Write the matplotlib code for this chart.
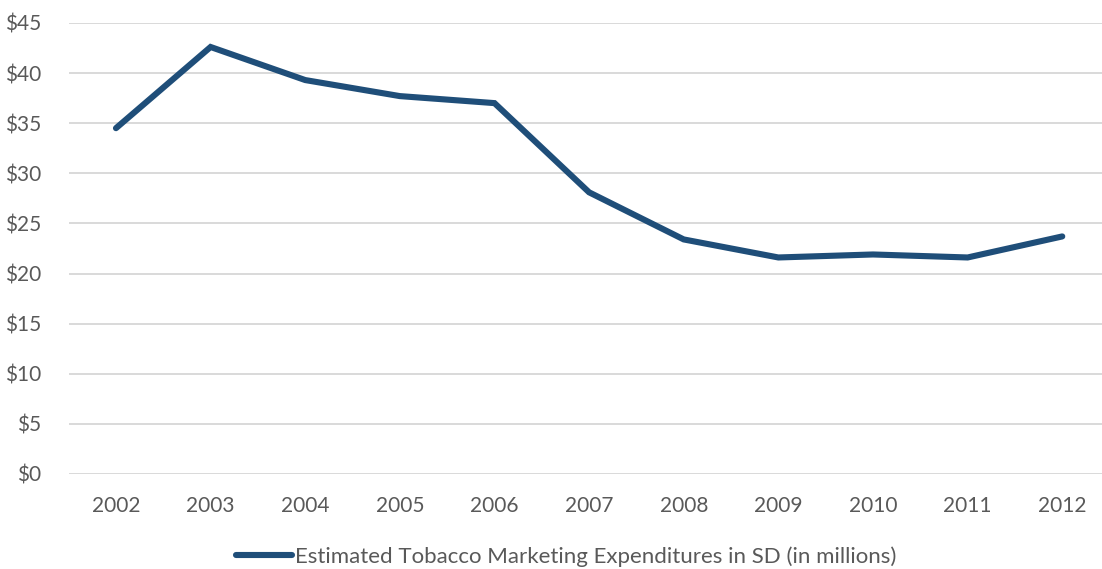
import matplotlib
matplotlib.use('Agg')
import matplotlib.pyplot as plt
from matplotlib.ticker import FuncFormatter

# DATA
years = ['2002', '2003', '2004', '2005', '2006', '2007', '2008', '2009', '2010', '2011', '2012']
expenditures = [34.5, 42.6, 39.3, 37.7, 37.0, 28.1, 23.4, 21.6, 21.9, 21.6, 23.7]
series_label = 'Estimated Tobacco Marketing Expenditures in SD (in millions)'

line_color = '#1F4E79'
text_color = '#595959'
grid_color = '#D9D9D9'

plt.rcParams['font.family'] = ['Lato', 'DejaVu Sans']

fig = plt.figure(figsize=(11.02, 5.69), dpi=100)
ax = fig.add_axes([0.0623, 0.167, 0.9377, 0.7927])

x = list(range(len(years)))
ax.plot(x, expenditures, color=line_color, linewidth=4.4, solid_capstyle='round',
        solid_joinstyle='miter', label=series_label, zorder=3)

# Format axes
ax.set_ylim(0, 45)
ax.set_yticks(range(0, 50, 5))
ax.yaxis.set_major_formatter(FuncFormatter(lambda v, p: '$' + str(int(v))))
ax.set_xlim(-0.5, 10.42)
ax.set_xticks(x)
ax.set_xticklabels(years)

ax.grid(axis='y', color=grid_color, linewidth=1.4)
ax.set_axisbelow(True)
for side in ['top', 'right', 'left', 'bottom']:
    ax.spines[side].set_visible(False)
ax.tick_params(axis='both', length=0, labelsize=15, colors=text_color)
ax.tick_params(axis='y', pad=20)
ax.tick_params(axis='x', pad=16)

# Legend
leg = fig.legend(loc='center', bbox_to_anchor=(0.514, 0.022), frameon=False,
                 handlelength=2.5, handletextpad=0.15, fontsize=16)
for t in leg.get_texts():
    t.set_color(text_color)

plt.savefig('out.png', dpi=100)
